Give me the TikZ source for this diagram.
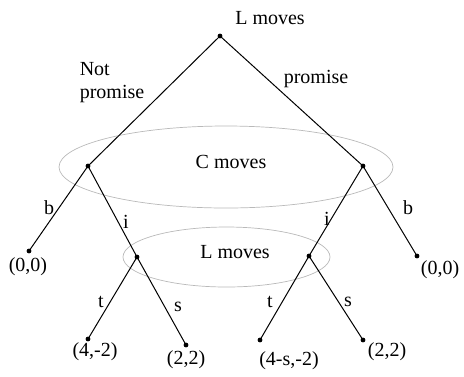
\documentclass[tikz,border=0pt]{standalone}
\usepackage{fontspec}
\setmainfont{Liberation Serif}
\usetikzlibrary{positioning}
\begin{document}
\begin{tikzpicture}[
    x=0.5pt, y=-0.5pt,
    dot/.style={circle, fill=black, inner sep=0pt, minimum size=2.4pt},
    txt/.style={font=\fontsize{10}{11.5}\selectfont, inner sep=0pt, align=left},
    branch/.style={line width=0.5pt, black},
    infoset/.style={draw=gray!55, line width=0.35pt}
]
    \useasboundingbox (0,0) rectangle (464,376);

    % Information sets
    \draw[infoset] (226,167) ellipse [x radius=167, y radius=41];
    \draw[infoset] (226.5,257) ellipse [x radius=103.5, y radius=30];

    % Decision nodes
    \node[dot] (root) at (220,36) {};
    \node[dot] (cl) at (88,166) {};
    \node[dot] (cr) at (363,166) {};
    \node[dot] (ll) at (137,257) {};
    \node[dot] (lr) at (309,256) {};

    % Terminal nodes
    \node[dot] (bl) at (29,251) {};
    \node[dot] (br) at (417,256) {};
    \node[dot] (tl) at (88,339) {};
    \node[dot] (sl) at (186,345) {};
    \node[dot] (tr) at (260,340) {};
    \node[dot] (sr) at (363,340) {};

    % Branches
    \draw[branch] (root.center) -- (cl.center);
    \draw[branch] (root.center) -- (cr.center);
    \draw[branch] (cl.center) -- (bl.center);
    \draw[branch] (cl.center) -- (ll.center);
    \draw[branch] (cr.center) -- (lr.center);
    \draw[branch] (cr.center) -- (br.center);
    \draw[branch] (ll.center) -- (tl.center);
    \draw[branch] (ll.center) -- (sl.center);
    \draw[branch] (lr.center) -- (tr.center);
    \draw[branch] (lr.center) -- (sr.center);

    % Labels
    \node[txt] (lmtop) at (270,18) {L moves};
    \node[txt] (notp) at (112,83) {Not\\promise};
    \node[txt] (prom) at (316,79) {promise};
    \node[txt] (cmov) at (231,162) {C moves};
    \node[txt] (lmbot) at (235,252) {L moves};
    \node[txt] (bla) at (49,208) {b};
    \node[txt] (ila) at (126,222) {i};
    \node[txt] (ira) at (327,219) {i};
    \node[txt] (bra) at (408,208) {b};
    \node[txt] (tla) at (101,302) {t};
    \node[txt] (sla) at (178,307) {s};
    \node[txt] (tra) at (270,302) {t};
    \node[txt] (sra) at (348,302) {s};

    % Payoffs
    \node[txt] (p1) at (28,267) {(0,0)};
    \node[txt] (p2) at (440,270) {(0,0)};
    \node[txt] (p3) at (95,352) {(4,-2)};
    \node[txt] (p4) at (186,360) {(2,2)};
    \node[txt] (p5) at (289,361) {(4-s,-2)};
    \node[txt] (p6) at (387,352) {(2,2)};

\end{tikzpicture}
\end{document}
